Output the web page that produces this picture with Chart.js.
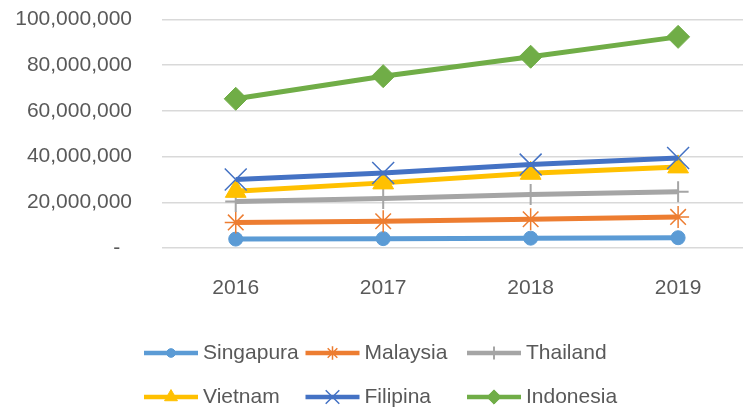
<!DOCTYPE html>
<html>
<head>
<meta charset="utf-8">
<script src="https://cdn.jsdelivr.net/npm/chart.js@4.4.1/dist/chart.umd.min.js"></script>
<style>
  html, body { margin: 0; padding: 0; background: #fff; }
  #wrap { width: 743px; height: 409px; }
</style>
</head>
<body>
<div id="wrap"><canvas id="grafico" width="743" height="409"></canvas></div>
<script>
const tahun = ['2016', '2017', '2018', '2019'];

const singapura = [3900000, 4100000, 4300000, 4500000];
const malaysia = [11200000, 11700000, 12600000, 13600000];
const thailand = [20300000, 21700000, 23400000, 24600000];
const vietnam = [24800000, 28500000, 32700000, 35500000];
const filipina = [30000000, 32800000, 36500000, 39400000];
const indonesia = [65300000, 75200000, 83700000, 92400000];

const yTicks = [0, 20000000, 40000000, 60000000, 80000000, 100000000];

const FONT = '"Liberation Sans", Arial, sans-serif';
const TEXT = '#595959';

function serie(label, data, color, style, radius, bw, order) {
    return {
        label: label,
        // titik x = indeks tahun, supaya sumbu x bisa dipotong di kanan seperti aslinya
        data: data.map((v, i) => ({ x: i, y: v })),
        borderColor: color,
        backgroundColor: color,
        borderWidth: 5,
        pointStyle: style,
        pointRadius: radius,
        pointBorderColor: color,
        pointBackgroundColor: color,
        pointBorderWidth: bw,
        tension: 0,
        order: order
    };
}

const datasets = [
    serie('Singapura', singapura, '#5B9BD5', 'circle', 7, 1, 6),
    serie('Malaysia', malaysia, '#ED7D31', 'star', 11, 1.5, 5),
    serie('Thailand', thailand, '#A5A5A5', 'cross', 10.5, 2, 4),
    serie('Vietnam', vietnam, '#FFC000', 'triangle', 12, 1, 3),
    serie('Filipina', filipina, '#4472C4', 'crossRot', 15.5, 1.5, 2),
    serie('Indonesia', indonesia, '#70AD47', 'rectRot', 11.5, 1, 1)
];

// legenda: 3 kolom, 2 baris, garis + marker
const legendaPlugin = {
    id: 'legenda',
    afterDraw(chart) {
        const ctx = chart.ctx;
        const colX = [144, 305.5, 467];
        const rowY = [353, 397];
        ctx.save();
        datasets.forEach((ds, i) => {
            const x = colX[i % 3];
            const y = rowY[Math.floor(i / 3)];
            ctx.strokeStyle = ds.borderColor;
            ctx.lineWidth = 4.5;
            ctx.beginPath();
            ctx.moveTo(x, y);
            ctx.lineTo(x + 54, y);
            ctx.stroke();
            ctx.fillStyle = ds.backgroundColor;
            ctx.strokeStyle = ds.borderColor;
            ctx.lineWidth = ds.pointBorderWidth;
            Chart.helpers.drawPoint(ctx, {
                pointStyle: ds.pointStyle,
                radius: ds.pointRadius * 0.62,
                rotation: 0,
                borderWidth: ds.pointBorderWidth
            }, x + 27, y);
            ctx.fillStyle = TEXT;
            ctx.font = '21px ' + FONT;
            ctx.textAlign = 'left';
            ctx.textBaseline = 'middle';
            ctx.fillText(ds.label, x + 59, y);
        });
        ctx.restore();
    }
};

const ctx = document.getElementById('grafico').getContext('2d');
const grafico = new Chart(ctx, {
    type: 'line',
    data: {
        datasets: datasets
    },
    options: {
        responsive: false,
        animation: false,
        layout: {
            autoPadding: false,
            padding: { top: 19.5, left: 0, right: 0, bottom: 108.4 }
        },
        plugins: {
            legend: { display: false },
            tooltip: { enabled: false }
        },
        scales: {
            x: {
                type: 'linear',
                min: -0.5,
                max: 3.44,
                afterBuildTicks(scale) {
                    scale.ticks = tahun.map((t, i) => ({ value: i }));
                },
                afterFit(scale) {
                    scale.height = 52.6;
                    scale.paddingLeft = 0;
                    scale.paddingRight = 0;
                },
                grid: { display: false, drawTicks: false },
                border: { display: false },
                ticks: {
                    color: TEXT,
                    font: { family: FONT, size: 21 },
                    padding: 27.4,
                    maxRotation: 0,
                    autoSkip: false,
                    callback: v => tahun[v]
                }
            },
            y: {
                min: 0,
                max: 100000000,
                afterBuildTicks(scale) {
                    scale.ticks = yTicks.map(v => ({ value: v }));
                },
                afterFit(scale) {
                    scale.width = 162;
                    scale.paddingTop = 0;
                    scale.paddingBottom = 0;
                },
                grid: { color: '#D9D9D9', lineWidth: 1.5, drawTicks: false },
                border: { display: false },
                ticks: {
                    color: TEXT,
                    font: { family: FONT, size: 21 },
                    padding: 30,
                    callback: v => v === 0 ? '-\u00a0\u00a0' : v.toLocaleString('en-US')
                }
            }
        }
    },
    plugins: [legendaPlugin]
});
</script>
</body>
</html>
